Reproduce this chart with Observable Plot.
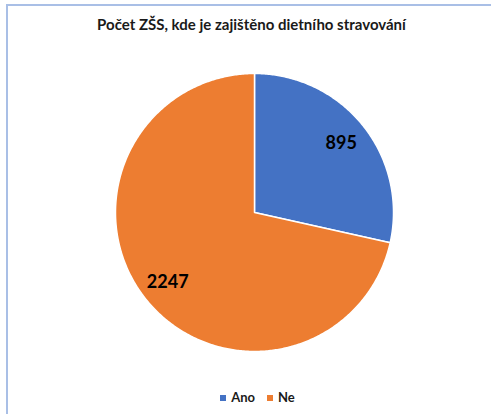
<!DOCTYPE html>
<html><head><meta charset="utf-8">
<script src="https://cdn.jsdelivr.net/npm/d3@7"></script>
<script src="https://cdn.jsdelivr.net/npm/@observablehq/plot@0.6"></script>
<style>
html,body{margin:0;padding:0;background:#fff;overflow:hidden;}
body{width:491px;height:414px;position:relative;font-family:Lato,"Open Sans",sans-serif;}
#frame{position:absolute;left:6px;top:4px;width:600px;height:500px;border-left:2px solid #a9bfe6;border-top:2px solid #a9bfe6;}
#title{position:absolute;left:6px;width:491px;top:15px;text-align:center;font-size:15px;font-weight:700;color:#1a1a1a;}
#chart{position:absolute;left:0;top:40px;}
#legend{position:absolute;top:389px;left:12px;width:491px;text-align:center;font-size:13px;font-weight:700;color:#1a1a1a;}
#legend span.sw{display:inline-block;width:6px;height:6px;margin-right:5px;vertical-align:1px;}
#legend span.it{margin:0 6px;}
</style></head>
<body>
<div id="frame"></div>
<div id="title">Počet ZŠS, kde je zajištěno dietního stravování</div>
<div id="chart"></div>
<div id="legend"></div>
<script>
const categories = ["Ano", "Ne"];
const values = [895, 2247];
const colors = ["#4472C4", "#ED7D31"];

const pie = d3.pie().sort(null).startAngle(0).endAngle(2*Math.PI)(values);

// polygon outlines of slices (angle measured clockwise from top)
const pts = [];
pie.forEach((p, i) => {
  const n = Math.max(2, Math.ceil((p.endAngle - p.startAngle) / 0.01));
  pts.push({cat: categories[i], x: 0, y: 0});
  for (let k = 0; k <= n; k++) {
    const a = p.startAngle + (p.endAngle - p.startAngle) * k / n;
    pts.push({cat: categories[i], x: Math.sin(a), y: Math.cos(a)});
  }
  pts.push({cat: categories[i], x: 0, y: 0});
});
const labels = pie.map((p, i) => {
  const a = (p.startAngle + p.endAngle) / 2;
  return {cat: categories[i], value: values[i], x: 0.8 * Math.sin(a), y: 0.8 * Math.cos(a)};
});

const chart = Plot.plot({
  width: 491, height: 330,
  marginLeft: 115, marginRight: 98, marginTop: 33, marginBottom: 19,
  x: {domain: [-1, 1], axis: null},
  y: {domain: [-1, 1], axis: null},
  color: {domain: categories, range: colors},
  style: {background: "transparent", fontFamily: "Lato, sans-serif"},
  marks: [
    Plot.line(pts, {x: "x", y: "y", z: "cat", fill: "cat", stroke: "#fff", strokeWidth: 1.5, strokeLinejoin: "round", curve: "linear"}),
    Plot.text(labels, {x: "x", y: "y", text: d => String(d.value), fontSize: 18, fontWeight: 700, fill: "#000"})
  ]
});
document.getElementById("chart").appendChild(chart);

document.getElementById("legend").innerHTML = categories.map((c, i) =>
  `<span class="it"><span class="sw" style="background:${colors[i]}"></span>${c}</span>`).join("");
</script>
</body></html>
